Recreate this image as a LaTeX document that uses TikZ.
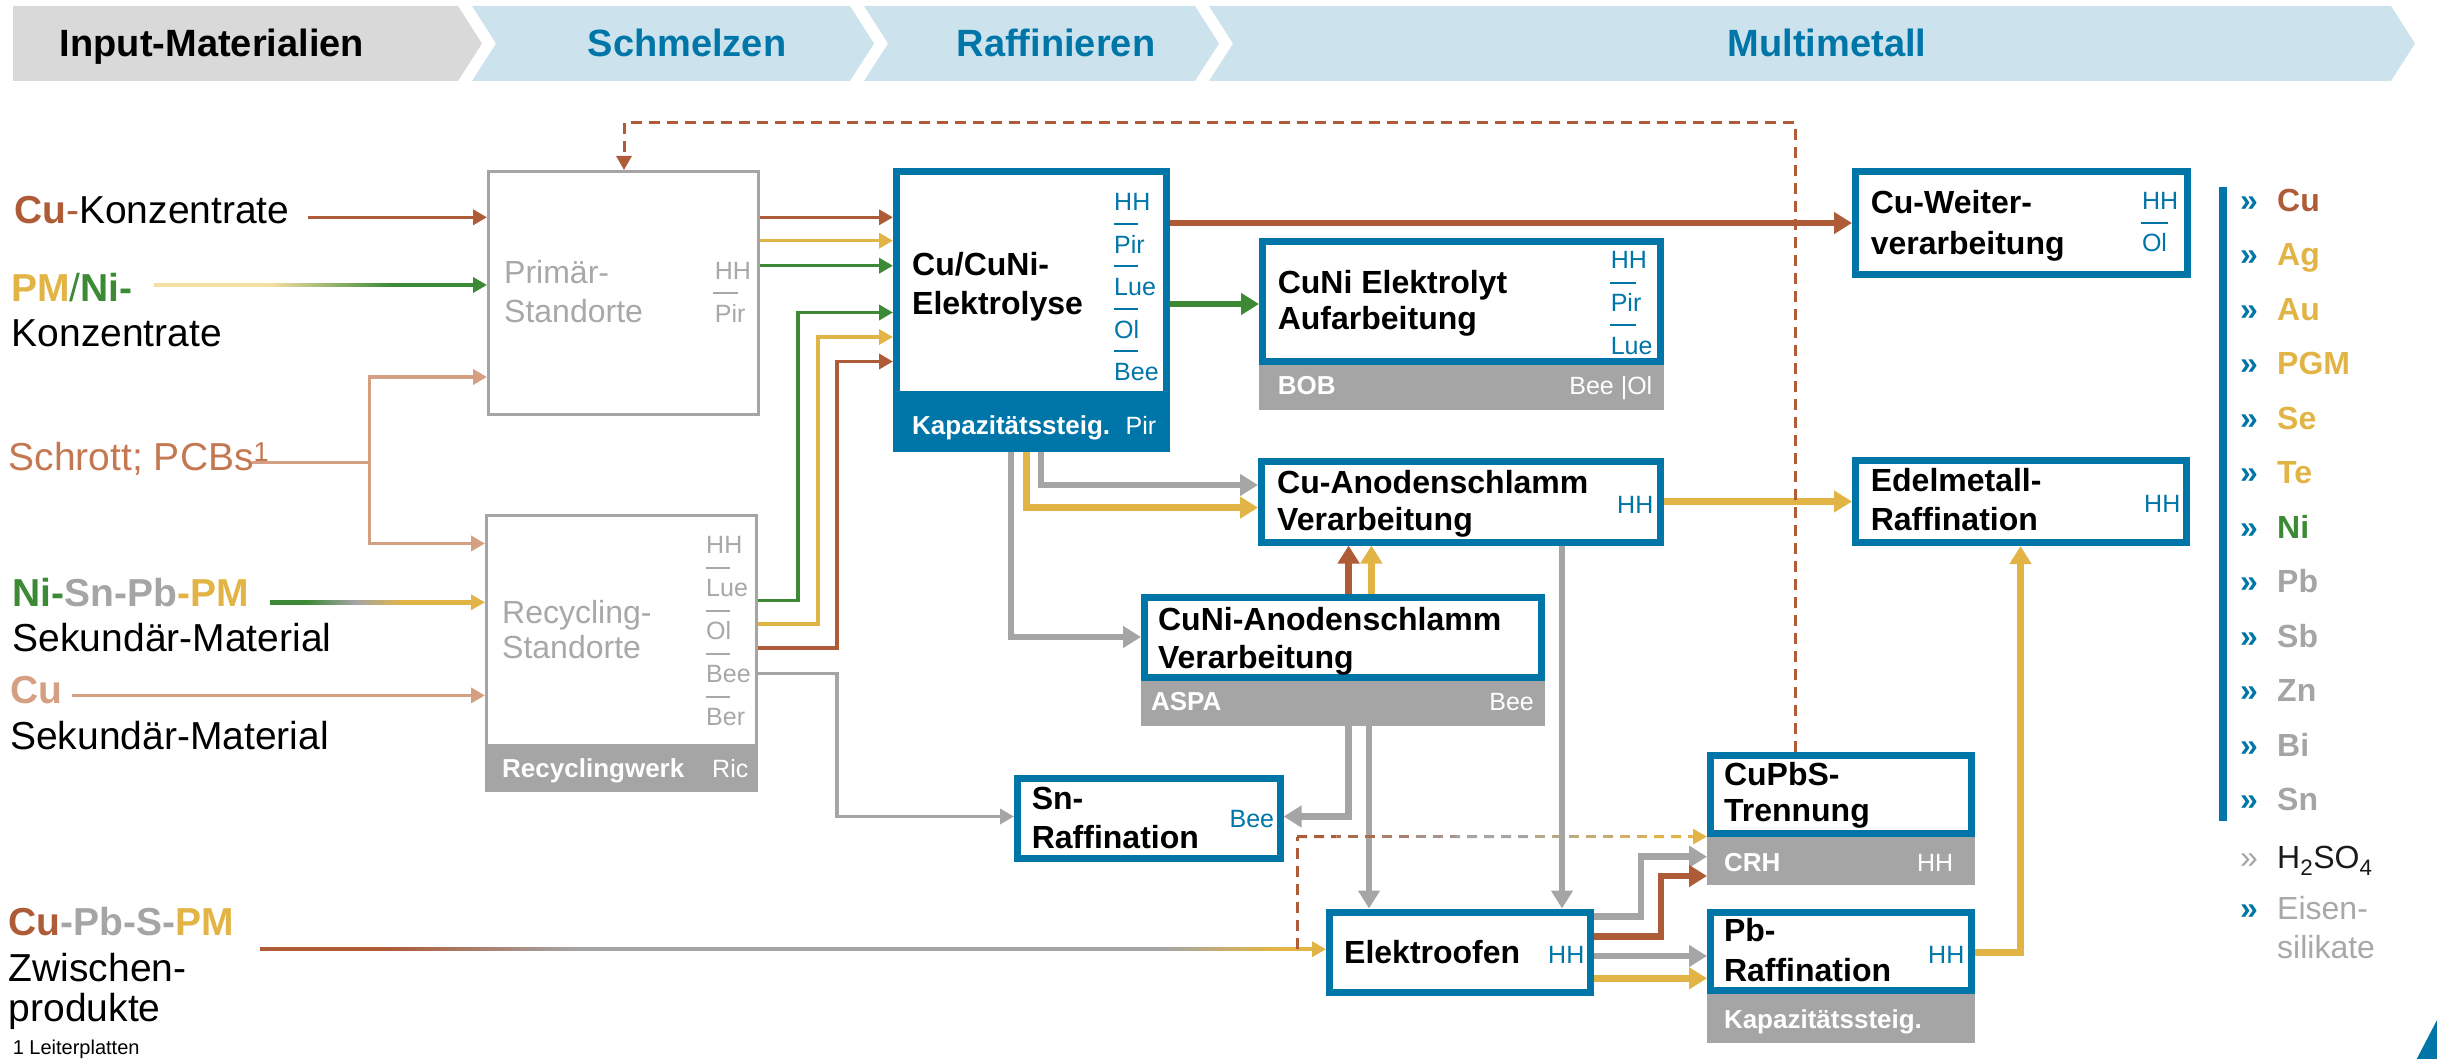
\documentclass[tikz,border=0pt]{standalone}
\usepackage{fontspec}
\setmainfont{Liberation Sans}
\usetikzlibrary{arrows.meta,calc}
\definecolor{bluec}{HTML}{0076A8}
\definecolor{brownc}{HTML}{AE5B37}
\definecolor{goldc}{HTML}{E2B445}
\definecolor{greenc}{HTML}{3C8A36}
\definecolor{grayc}{HTML}{A5A5A5}
\definecolor{tanc}{HTML}{D49F82}
\definecolor{lblue}{HTML}{CCE3EE}
\definecolor{lgray}{HTML}{D9D9D9}
\definecolor{ltext}{HTML}{A8A8A8}
\definecolor{schrottc}{HTML}{C47852}
\definecolor{palegold}{HTML}{F3DFA6}
\definecolor{darkt}{HTML}{1A1A1A}
\colorlet{dc0}{brownc}
\colorlet{dc1}{brownc!75!grayc}
\colorlet{dc2}{brownc!50!grayc}
\colorlet{dc3}{brownc!25!grayc}
\colorlet{dc4}{grayc}
\colorlet{dc5}{grayc}
\colorlet{dc6}{grayc!75!goldc}
\colorlet{dc7}{grayc!50!goldc}
\colorlet{dc8}{grayc!25!goldc}
\colorlet{dc9}{goldc}
\pgfdeclarehorizontalshading{pmnishade}{100bp}{color(0bp)=(palegold); color(43bp)=(palegold); color(62bp)=(greenc); color(100bp)=(greenc)}
\pgfdeclarehorizontalshading{nishade}{100bp}{color(0bp)=(greenc); color(34bp)=(greenc); color(46bp)=(grayc); color(58bp)=(goldc); color(100bp)=(goldc)}
\pgfdeclarehorizontalshading{cupbshade}{100bp}{color(0bp)=(brownc); color(31bp)=(brownc); color(40bp)=(grayc); color(68bp)=(grayc); color(73bp)=(goldc); color(100bp)=(goldc)}
\newcommand\myfs[1]{\fontsize{#1}{#1}\selectfont}
\begin{document}
\begin{tikzpicture}[x=1pt,y=-1pt,
  bbox/.style={draw=bluec, line width=7pt, fill=white, inner sep=0pt, anchor=north west},
  gbox/.style={draw=grayc, line width=3pt, fill=white, inner sep=0pt, anchor=north west},
  footg/.style={fill=grayc, draw=none, inner sep=0pt, outer sep=0pt, anchor=north west},
  footb/.style={fill=bluec, draw=none, inner sep=0pt, outer sep=0pt, anchor=north west},
  hdr/.style={font=\bfseries\myfs{38}, text=bluec, anchor=base, inner sep=0pt},
  ttl/.style={font=\bfseries\myfs{32}, text=black, anchor=base west, inner sep=0pt},
  sd/.style={font=\myfs{25}, text=bluec, anchor=base west, inner sep=0pt},
  sdg/.style={sd, text=ltext},
  gt/.style={font=\myfs{32}, text=ltext, anchor=base west, inner sep=0pt},
  ft/.style={font=\bfseries\myfs{26}, text=white, anchor=base west, inner sep=0pt},
  fr/.style={font=\myfs{25}, text=white, anchor=base east, inner sep=0pt},
  lab/.style={font=\myfs{39}, text=black, anchor=base west, inner sep=0pt},
  legq/.style={font=\bfseries\myfs{32}, text=bluec, anchor=base west, inner sep=0pt},
  legt/.style={font=\bfseries\myfs{32}, anchor=base west, inner sep=0pt},
  sepln/.style={line width=2pt},
  tl/.style={line width=3.5pt},
  ta/.style={tl, -{Triangle[length=14pt,width=15pt]}},
  TL/.style={line width=6.5pt},
  Ta/.style={TL, -{Triangle[length=18pt,width=21pt]}},
  dl/.style={line width=3pt, dash pattern=on 11pt off 7pt},
]
\useasboundingbox (0,0) rectangle (2437,1059);

% ---------- header ----------
\fill[lgray] (13,6) -- (458,6) -- (482,43.5) -- (458,81) -- (13,81) -- cycle;
\fill[lblue] (472,6) -- (850,6) -- (874,43.5) -- (850,81) -- (472,81) -- (496,43.5) -- cycle;
\fill[lblue] (864,6) -- (1195,6) -- (1219,43.5) -- (1195,81) -- (864,81) -- (888,43.5) -- cycle;
\fill[lblue] (1209,6) -- (2391,6) -- (2415,43.5) -- (2391,81) -- (1209,81) -- (1233,43.5) -- cycle;
\node[hdr, text=black] (h1) at (212,56.7) {Input-Materialien};
\node[hdr] (h2) at (687,56.7) {Schmelzen};
\node[hdr] (h3) at (1056,56.7) {Raffinieren};
\node[hdr] (h4) at (1827,56.7) {Multimetall};

% ---------- boxes ----------
\node[gbox, minimum width=270pt, minimum height=243pt] (prim) at (487,170) {};
\node[gbox, minimum width=270pt, minimum height=275.8pt] (recyc) at (485,513.5) {};
\node[footg, minimum width=273pt, minimum height=48.8pt] (recycF) at (485,743.5) {};
\node[bbox, minimum width=270pt, minimum height=223pt] (cucu) at (893,168) {};
\node[footb, minimum width=277pt, minimum height=53.7pt] (cucuF) at (893,398) {};
\node[bbox, minimum width=398pt, minimum height=119.7pt] (elek) at (1259,238.3) {};
\node[footg, minimum width=405pt, minimum height=45pt] (elekF) at (1259,365) {};
\node[bbox, minimum width=332pt, minimum height=103.6pt] (cuw) at (1852,167.7) {};
\node[bbox, minimum width=399pt, minimum height=81pt] (cuan) at (1258,457.5) {};
\node[bbox, minimum width=331pt, minimum height=82pt] (edel) at (1852,457) {};
\node[bbox, minimum width=397pt, minimum height=79.4pt] (cunian) at (1141,594.4) {};
\node[footg, minimum width=404pt, minimum height=44.8pt] (cunianF) at (1141,680.8) {};
\node[bbox, minimum width=262.6pt, minimum height=80.5pt] (sn) at (1014,774.5) {};
\node[bbox, minimum width=261pt, minimum height=78.6pt] (cupbs) at (1707,751.7) {};
\node[footg, minimum width=268pt, minimum height=47.7pt] (cupbsF) at (1707,837.3) {};
\node[bbox, minimum width=261pt, minimum height=80.5pt] (eofen) at (1326,908.5) {};
\node[bbox, minimum width=261pt, minimum height=78pt] (pb) at (1707,909.3) {};
\node[footg, minimum width=268pt, minimum height=48.4pt] (pbF) at (1707,994.3) {};

% ---------- coordinates ----------
\coordinate (s1) at (308,217.3);
\coordinate (s2) at (154,285);
\coordinate (s3) at (252,462.3);
\coordinate (s4) at (270,602.3);
\coordinate (s5) at (72,695.4);
\coordinate (s6) at (260,949.2);
\coordinate (xs) at (369.7,0);
\coordinate (xg) at (798,0);
\coordinate (xy) at (818,0);
\coordinate (xb) at (837,0);
\coordinate (xc1) at (1011,0);
\coordinate (xc2) at (1026.5,0);
\coordinate (xc3) at (1041,0);
\coordinate (xu1) at (1348.6,0);
\coordinate (xu2) at (1371.4,0);
\coordinate (xd1) at (1562,0);
\coordinate (xd2) at (1369,0);
\coordinate (xe1) at (1641,0);
\coordinate (xe2) at (1661,0);
\coordinate (xp) at (2020.5,0);
\coordinate (xdd) at (1795,0);
\coordinate (xpd) at (624,0);
\coordinate (xl) at (1297,0);
\coordinate (Ya) at (0,217.3);
\coordinate (Yc) at (0,240.7);
\coordinate (Yd) at (0,265.7);
\coordinate (Yf) at (0,377);
\coordinate (Yg) at (0,543.5);
\coordinate (Yk) at (0,600.5);
\coordinate (Yl) at (0,624);
\coordinate (Ym) at (0,648);
\coordinate (Yn) at (0,673.5);
\coordinate (Yo) at (0,312.5);
\coordinate (Yp) at (0,337);
\coordinate (Yq) at (0,361.5);
\coordinate (Yr) at (0,816.5);
\coordinate (Ys) at (0,223);
\coordinate (Yt) at (0,304);
\coordinate (Yu) at (0,637);
\coordinate (Yv) at (0,507.6);
\coordinate (Yw) at (0,485);
\coordinate (Yx) at (0,501.5);
\coordinate (Yy) at (0,916.7);
\coordinate (Yz) at (0,856.7);
\coordinate (YA) at (0,936.7);
\coordinate (YB) at (0,876);
\coordinate (YC) at (0,956);
\coordinate (YD) at (0,978.3);
\coordinate (YE) at (0,952.7);
\coordinate (YF) at (0,122.7);
\coordinate (dA) at (1297,836.6);
\coordinate (dB) at (1692,836.6);

% ---------- input connectors ----------
\draw[ta, brownc] (s1) -- (prim.west |- s1);
\shade[shading=pmnishade] ($(s2)+(0,-1.75)$) rectangle ($(prim.west |- s2)+(-12,1.75)$);
\draw[ta, greenc] ($(prim.west |- s2)+(-16,0)$) -- (prim.west |- s2);
\draw[tl, tanc] (s3) -- (s3 -| xs);
\draw[ta, tanc] (s3 -| xs) |- (prim.west |- Yf);
\draw[ta, tanc] (s3 -| xs) |- (recyc.west |- Yg);
\shade[shading=nishade] ($(s4)+(0,-1.75)$) rectangle ($(recyc.west |- s4)+(-12,1.75)$);
\draw[ta, goldc] ($(recyc.west |- s4)+(-16,0)$) -- (recyc.west |- s4);
\draw[ta, tanc] (s5) -- (recyc.west |- s5);
\shade[shading=cupbshade] ($(s6)+(0,-1.75)$) rectangle ($(eofen.west |- s6)+(-12,1.75)$);
\draw[ta, goldc] ($(eofen.west |- s6)+(-16,0)$) -- (eofen.west |- s6);

% ---------- from Primaer / Recycling ----------
\draw[ta, brownc] (prim.east |- Ya) -- (cucu.west |- Ya);
\draw[ta, goldc] (prim.east |- Yc) -- (cucu.west |- Yc);
\draw[ta, greenc] (prim.east |- Yd) -- (cucu.west |- Yd);
\draw[ta, greenc] (recyc.east |- Yk) -| (xg |- Yo) -- (cucu.west |- Yo);
\draw[ta, goldc] (recyc.east |- Yl) -| (xy |- Yp) -- (cucu.west |- Yp);
\draw[ta, brownc] (recyc.east |- Ym) -| (xb |- Yq) -- (cucu.west |- Yq);
\draw[ta, grayc] (recyc.east |- Yn) -| (xb |- Yr) -- (sn.west |- Yr);

% ---------- thick connectors ----------
\draw[Ta, brownc] (cucu.east |- Ys) -- (cuw.west |- Ys);
\draw[Ta, greenc] (cucu.east |- Yt) -- (elek.west |- Yt);
\draw[Ta, grayc] (cucuF.south -| xc1) |- (cunian.west |- Yu);
\draw[Ta, goldc] (cucuF.south -| xc2) |- (cuan.west |- Yv);
\draw[Ta, grayc] (cucuF.south -| xc3) |- (cuan.west |- Yw);
\draw[Ta, brownc] (cunian.north -| xu1) -- (cuan.south -| xu1);
\draw[Ta, goldc] (cunian.north -| xu2) -- (cuan.south -| xu2);
\draw[Ta, goldc] (cuan.east |- Yx) -- (edel.west |- Yx);
\draw[Ta, grayc] (cuan.south -| xd1) -- (eofen.north -| xd1);
\draw[Ta, grayc] (cunianF.south -| xu1) |- (sn.east |- Yr);
\draw[Ta, grayc] (cunianF.south -| xd2) -- (eofen.north -| xd2);
\draw[Ta, grayc] (eofen.east |- Yy) -| (xe1 |- Yz) -- (cupbsF.west |- Yz);
\draw[Ta, brownc] (eofen.east |- YA) -| (xe2 |- YB) -- (cupbsF.west |- YB);
\draw[Ta, grayc] (eofen.east |- YC) -- (pb.west |- YC);
\draw[Ta, goldc] (eofen.east |- YD) -- (pb.west |- YD);
\draw[Ta, goldc] (pb.east |- YE) -| (edel.south -| xp);

% ---------- dashed connectors ----------
\draw[dl, brownc, -{Triangle[length=14pt,width=15pt]}] (cupbs.north -| xdd) |- (xpd |- YF) -- (prim.north -| xpd);
\draw[dl, brownc] (xl |- s6) -- (dA);
\foreach \i in {0,...,9} {
  \pgfmathsetmacro\ta{\i/10}
  \pgfmathsetmacro\tb{(\i+1)/10}
  \pgfmathsetmacro\ph{\i*39.5}
  \draw[line width=3pt, dash pattern=on 10pt off 7pt, dash phase=\ph pt, color=dc\i] ($(dA)!\ta!(dB)$) -- ($(dA)!\tb!(dB)$);
}
\draw[line width=3pt, goldc, -{Triangle[length=14pt,width=15pt]}] (dB) -- (cupbs.west |- dB);

% ---------- left labels ----------
\node[lab] (l1) at (14,224) {\textcolor{brownc}{\bfseries Cu}\textcolor{brownc}{-}Konzentrate};
\node[lab] (l2) at (11,302) {\textcolor{goldc}{\bfseries PM}\textcolor{greenc}{/}\textcolor{greenc}{\bfseries Ni-}};
\node[lab] (l3) at (11.5,347) {Konzentrate};
\node[lab, text=schrottc] (l4) at (8.6,470.7) {Schrott; PCBs\textsuperscript{1}};
\node[lab, font=\bfseries\myfs{39}] (l5) at (12.6,606) {\textcolor{greenc}{Ni-}\textcolor{grayc}{Sn-Pb}\textcolor{goldc}{-PM}};
\node[lab] (l6) at (12.6,651.5) {Sekundär-Material};
\node[lab, font=\bfseries\myfs{39}, text=tanc] (l7) at (10,703) {Cu};
\node[lab] (l8) at (10,749.5) {Sekundär-Material};
\node[lab, font=\bfseries\myfs{39}] (l9) at (8.6,935.6) {\textcolor{brownc}{Cu}\textcolor{grayc}{-Pb-S-}\textcolor{goldc}{PM}};
\node[lab] (l10) at (8.6,981) {Zwischen-};
\node[lab] (l11) at (8.6,1021) {produkte};
\node[lab, font=\myfs{20}] (l12) at (12.6,1054) {1 Leiterplatten};

% ---------- Primaer / Recycling texts ----------
\node[gt] (pt1) at (504,283.3) {Primär-};
\node[gt] (pt2) at (504,322.7) {Standorte};
\node[sdg] (ps1) at (714.7,280) {HH};
\draw[sepln, ltext] (713,292.7) -- (738,292.7);
\node[sdg] (ps2) at (714.7,322.7) {Pir};
\node[gt] (rt1) at (502,623) {Recycling-};
\node[gt] (rt2) at (502,658.6) {Standorte};
\foreach \t [count=\i from 0] in {HH,Lue,Ol,Bee,Ber} {
  \node[sdg] (rs\i) at (706,{553.5+43*\i}) {\t};
}
\foreach \i in {0,...,3} { \draw[sepln, ltext] (706,{567.7+43*\i}) -- (730,{567.7+43*\i}); }
\node[ft] (rf1) at (502,777.5) {Recyclingwerk};
\node[fr, anchor=base west] (rf2) at (712,777.5) {Ric};

% ---------- Cu/CuNi ----------
\node[ttl] (ct1) at (912,276) {Cu/CuNi-};
\node[ttl] (ct2) at (912,315) {Elektrolyse};
\foreach \t [count=\i from 0] in {HH,Pir,Lue,Ol,Bee} {
  \node[sd] (cs\i) at (1114,{210.7+42.5*\i}) {\t};
}
\foreach \i in {0,...,3} { \draw[sepln, bluec] (1114,{224+42.5*\i}) -- (1138,{224+42.5*\i}); }
\node[ft] (cf1) at (912,434) {Kapazitätssteig.};
\node[fr, anchor=base west] (cf2) at (1125.5,434) {Pir};

% ---------- CuNi Elektrolyt ----------
\node[ttl] (et1) at (1277.6,293.3) {CuNi Elektrolyt};
\node[ttl] (et2) at (1277.6,330) {Aufarbeitung};
\foreach \t [count=\i from 0] in {HH,Pir,Lue} {
  \node[sd] (es\i) at (1610.6,{268.3+43.3*\i}) {\t};
}
\foreach \i in {0,1} { \draw[sepln, bluec] (1610,{282.7+42.3*\i}) -- (1636,{282.7+42.3*\i}); }
\node[ft] (ef1) at (1277.6,395) {BOB};
\node[fr] (ef2) at (1652.5,395) {Bee |Ol};

% ---------- Cu-Weiterverarbeitung ----------
\node[ttl] (wt1) at (1870.6,213.3) {Cu-Weiter-};
\node[ttl] (wt2) at (1870.6,255) {verarbeitung};
\node[sd] (ws1) at (2141.8,210) {HH};
\draw[sepln, bluec] (2141,223.3) -- (2168,223.3);
\node[sd] (ws2) at (2141.8,251.7) {Ol};

% ---------- Cu-Anodenschlamm ----------
\node[ttl] (at1) at (1277,493.3) {Cu-Anodenschlamm};
\node[ttl] (at2) at (1277,530) {Verarbeitung};
\node[sd] (as1) at (1617,513) {HH};

% ---------- Edelmetall ----------
\node[ttl] (dt1) at (1870.6,491.7) {Edelmetall-};
\node[ttl] (dt2) at (1870.6,530) {Raffination};
\node[sd] (ds1) at (2144,512) {HH};

% ---------- CuNi-Anodenschlamm ----------
\node[ttl] (nt1) at (1157.9,630) {CuNi-Anodenschlamm};
\node[ttl] (nt2) at (1157.9,668.6) {Verarbeitung};
\node[ft] (nf1) at (1150.8,710) {ASPA};
\node[fr] (nf2) at (1534,710) {Bee};

% ---------- Sn-Raffination ----------
\node[ttl] (st1) at (1031.6,809) {Sn-};
\node[ttl] (st2) at (1031.6,848) {Raffination};
\node[sd] (ss1) at (1229.4,827.5) {Bee};

% ---------- CuPbS ----------
\node[ttl] (pt3) at (1723.8,785) {CuPbS-};
\node[ttl] (pt4) at (1723.8,821.7) {Trennung};
\node[ft] (pf1) at (1723.8,871) {CRH};
\node[fr] (pf2) at (1953.4,871) {HH};

% ---------- Elektroofen ----------
\node[ttl] (ot1) at (1344,963) {Elektroofen};
\node[sd] (os1) at (1548,963) {HH};

% ---------- Pb-Raffination ----------
\node[ttl] (bt1) at (1723.8,941.7) {Pb-};
\node[ttl] (bt2) at (1723.8,981.7) {Raffination};
\node[sd] (bs1) at (1928,963) {HH};
\node[ft] (bf1) at (1723.8,1028.6) {Kapazitätssteig.};

% ---------- legend ----------
\fill[bluec] (2219,187) rectangle (2226.5,821);
\foreach \t/\c [count=\i from 0] in {Cu/brownc, Ag/goldc, Au/goldc, PGM/goldc, Se/goldc, Te/goldc, Ni/greenc, Pb/grayc, Sb/grayc, Zn/grayc, Bi/grayc, Sn/grayc} {
  \node[legq] (lq\i) at (2240,{211.5+54.45*\i}) {»};
  \node[legt, text=\c] (lt\i) at (2277,{211.5+54.45*\i}) {\t};
}
\node[legq, text=grayc, font=\myfs{32}] (lq12) at (2240,868.7) {»};
\node[legt, text=darkt, font=\myfs{32}] (lt12) at (2277,868.7) {H\textsubscript{2}SO\textsubscript{4}};
\node[legq] (lq13) at (2240,919.7) {»};
\node[legt, text=ltext, font=\myfs{32}] (lt13) at (2277,919.7) {Eisen-};
\node[legt, text=ltext, font=\myfs{32}] (lt14) at (2277,958.7) {silikate};

% corner mark
\fill[bluec] (2416.7,1059) -- (2437,1020) -- (2437,1059) -- cycle;
\end{tikzpicture}
\end{document}
